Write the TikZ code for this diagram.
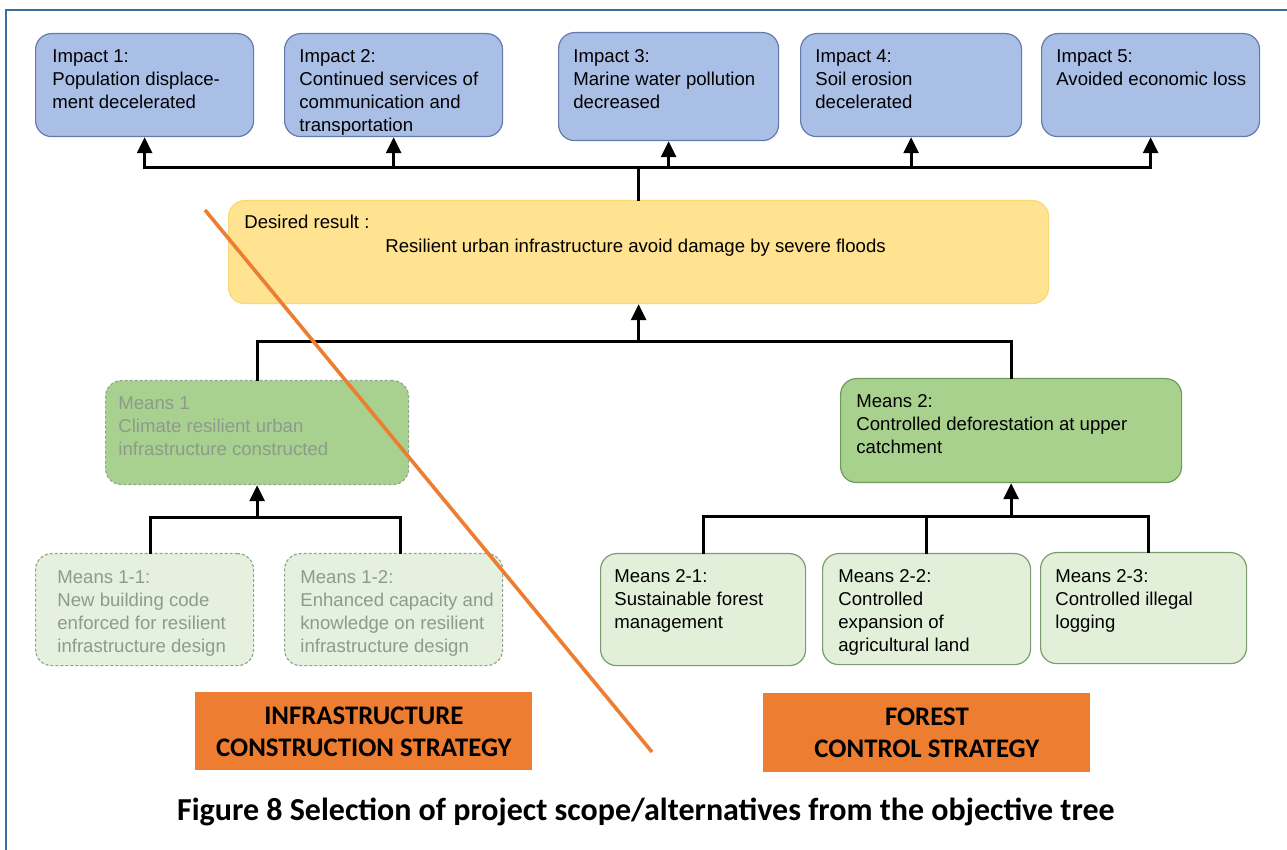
\documentclass[tikz,border=0pt]{standalone}
\usepackage{fontspec}
\setmainfont{Liberation Sans}
\newfontfamily\calibri{Carlito}
\usetikzlibrary{arrows.meta,calc,positioning}
\definecolor{OTFrame}    {HTML}{3A6D9C}
\definecolor{OTBlue}     {HTML}{AABFE6}
\definecolor{OTBlueLine} {HTML}{6479AC}
\definecolor{OTYellow}   {HTML}{FFE391}
\definecolor{OTYellowLine}{HTML}{F8D978}
\definecolor{OTGreen}    {HTML}{A9D18E}
\definecolor{OTGreenLine}{HTML}{6E9A5A}
\definecolor{OTPale}     {HTML}{E2F0D9}
\definecolor{OTPaleLine} {HTML}{7C9C6E}
\definecolor{OTFaded}    {HTML}{A8D190}
\definecolor{OTFadedLine}{HTML}{8FA58A}
\definecolor{OTFadedPale}{HTML}{E5F1DE}
\definecolor{OTGreyText} {HTML}{8E9A8C}
\definecolor{OTOrange}   {HTML}{ED7D31}

\tikzset{
  card/.style={anchor=north west, rounded corners=8pt, line width=0.6pt},
  impact/.style={card, draw=OTBlueLine, fill=OTBlue, minimum height=51.5pt},
  result/.style={card, draw=OTYellowLine, fill=OTYellow},
  means/.style={card, draw=OTGreenLine, fill=OTGreen, minimum height=52pt},
  submeans/.style={card, draw=OTPaleLine, fill=OTPale, minimum height=56pt},
  dropped/.style={dashed, dash pattern=on 1.5pt off 1pt},
  note/.style={anchor=north west, inner sep=0pt, align=left,
    font=\fontsize{9.3}{11.5}\selectfont},
  greynote/.style={note, text=OTGreyText},
  strategy/.style={anchor=north west, fill=OTOrange, align=center,
    font=\calibri\bfseries\fontsize{13.4}{16}\selectfont},
  link/.style={line width=1.5pt, line cap=rect},
  up/.style={line width=1.5pt, -{Triangle[width=7.5pt,length=8pt]}},
}

\begin{document}
\begin{tikzpicture}[x=0.5pt,y=-0.5pt]
  \useasboundingbox (0,0) rectangle (1287,850);
  \draw[OTFrame,line width=1pt] (6,850) -- (6,10) -- (1287,10);

  % impacts
  \node[impact,minimum width=109pt] (im1) at (35,33) {};
  \node[impact,minimum width=109pt] (im2) at (284,33) {};
  \node[impact,minimum width=110pt,minimum height=54pt] (im3) at (558,32) {};
  \node[impact,minimum width=110.5pt] (im4) at (800,33) {};
  \node[impact,minimum width=109pt] (im5) at (1041,33) {};
  \node[note] (im1t) at ($(im1.north west)+(17,16)$) {Impact 1:\\Population displace-\\ment decelerated};
  \node[note] (im2t) at ($(im2.north west)+(15,16)$) {Impact 2:\\Continued services of\\communication and\\transportation};
  \node[note] (im3t) at ($(im3.north west)+(15,17)$) {Impact 3:\\Marine water pollution\\decreased};
  \node[note] (im4t) at ($(im4.north west)+(15,16)$) {Impact 4:\\Soil erosion\\decelerated};
  \node[note] (im5t) at ($(im5.north west)+(15,16)$) {Impact 5:\\Avoided economic loss};

  % desired result
  \node[result,minimum width=410pt,minimum height=51.5pt] (res) at (228,200) {};
  \node[note,font=\fontsize{9.3}{12}\selectfont] (rest) at ($(res.north west)+(16,15)$)
    {Desired result :\\\hspace*{70.5pt}Resilient urban infrastructure avoid damage by severe floods};

  % means
  \node[means,minimum width=151.5pt,fill=OTFaded,draw=OTFadedLine,dropped] (m1) at (105,380) {};
  \node[means,minimum width=170.5pt] (m2) at (840,378) {};
  \node[greynote] (m1t) at ($(m1.north west)+(13,16)$) {Means 1\\Climate resilient urban\\infrastructure constructed};
  \node[note] (m2t) at ($(m2.north west)+(16,16)$) {Means 2:\\Controlled deforestation at upper\\catchment};

  \node[submeans,minimum width=109pt,fill=OTFadedPale,draw=OTFadedLine,dropped] (m11) at (35,553) {};
  \node[submeans,minimum width=109pt,fill=OTFadedPale,draw=OTFadedLine,dropped] (m12) at (284,553) {};
  \node[submeans,minimum width=102.5pt] (m21) at (600,553) {};
  \node[submeans,minimum width=104pt,minimum height=55.5pt] (m22) at (822,553) {};
  \node[submeans,minimum width=103pt,minimum height=55.5pt] (m23) at (1040,552) {};
  \node[greynote] (m11t) at ($(m11.north west)+(22,17)$) {Means 1-1:\\New building code\\enforced for resilient\\infrastructure design};
  \node[greynote] (m12t) at ($(m12.north west)+(16,17)$) {Means 1-2:\\Enhanced capacity and\\knowledge on resilient\\infrastructure design};
  \node[note] (m21t) at ($(m21.north west)+(14,16)$) {Means 2-1:\\Sustainable forest\\management};
  \node[note] (m22t) at ($(m22.north west)+(16,16)$) {Means 2-2:\\Controlled\\expansion of\\agricultural land};
  \node[note] (m23t) at ($(m23.north west)+(15,17)$) {Means 2-3:\\Controlled illegal\\logging};

  % connectors
  \coordinate (topbus) at (638,168);
  \coordinate (midbus) at (638,342);
  \coordinate (leftbus) at (256,518);
  \coordinate (rightbus) at (1010,517);
  \draw[link] (im1.south |- topbus) -- (im5.south |- topbus);
  \draw[link] (res.north) -- (res.north |- topbus);
  \foreach \n in {im1,im2,im3,im4,im5}
    \draw[up] (\n.south |- topbus) -- (\n.south);
  \draw[link] (m1.north) |- (midbus) -| (m2.north);
  \draw[up] (res.south |- midbus) -- (res.south);
  \draw[link] ([xshift=3pt]m11.north) |- (leftbus) -| ([xshift=3.5pt]m12.north);
  \draw[up] (m1.south |- leftbus) -- (m1.south);
  \draw[link] (m21.north) |- (rightbus) -| ([xshift=2.5pt]m23.north);
  \draw[link] (m22.north) -- (m22.north |- rightbus);
  \draw[up] (m2.south |- rightbus) -- (m2.south);

  % strategies
  \node[strategy,minimum width=168.5pt,minimum height=39pt] (st1) at (195,692) {INFRASTRUCTURE\\CONSTRUCTION STRATEGY};
  \node[strategy,minimum width=163.5pt,minimum height=39.5pt] (st2) at (763,693) {FOREST\\CONTROL STRATEGY};

  % cut line
  \coordinate (cutA) at (205,210);
  \coordinate (cutB) at (652,752);
  \draw[OTOrange,line width=1.8pt] (cutA) -- (cutB);

  \node[font=\calibri\bfseries\fontsize{16}{18}\selectfont] (cap) at (646,812)
    {Figure 8 Selection of project scope/alternatives from the objective tree};
\end{tikzpicture}
\end{document}
